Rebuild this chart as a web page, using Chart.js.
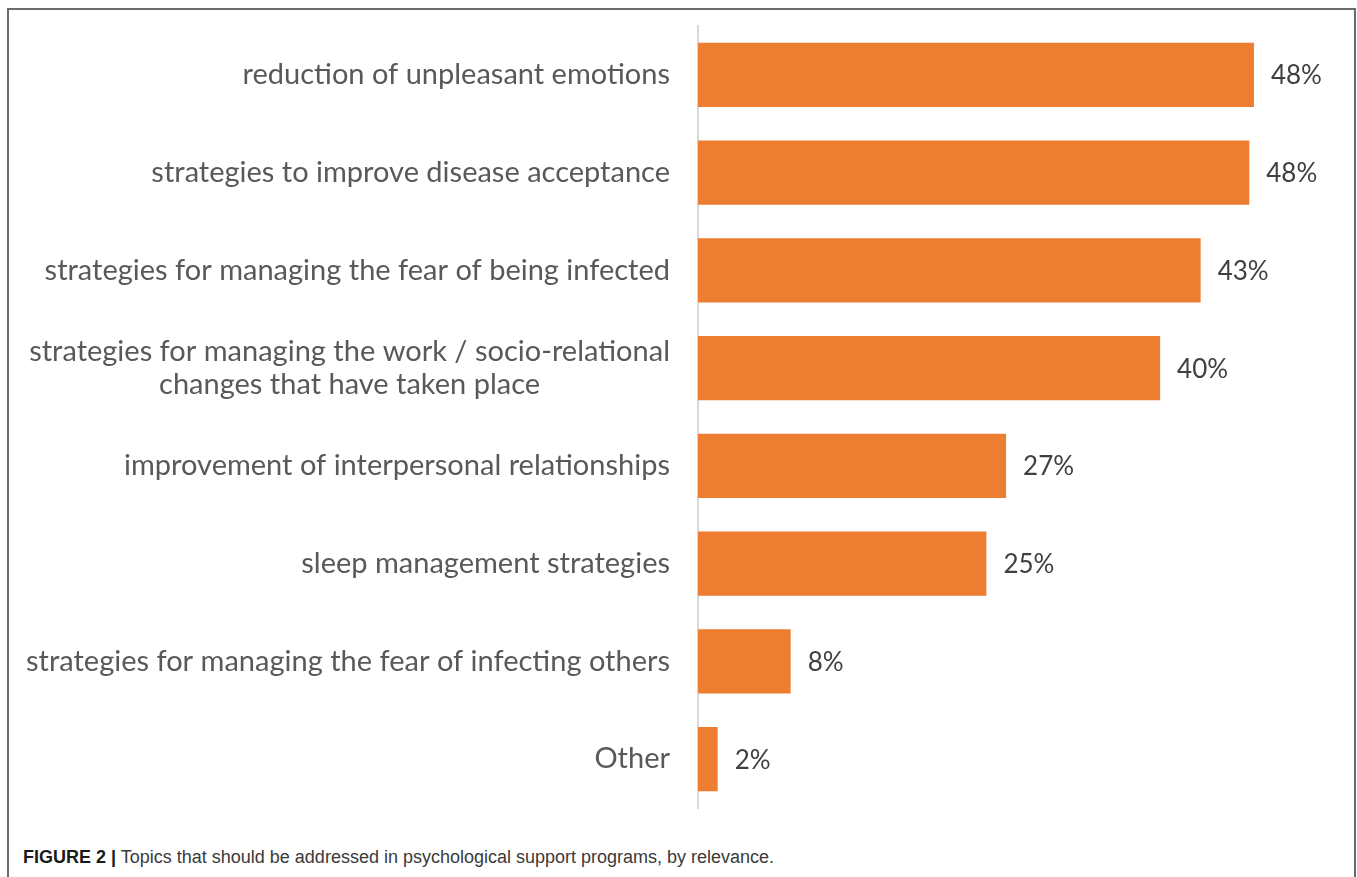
<!DOCTYPE html>
<html>
<head>
<meta charset="utf-8">
<script src="https://cdn.jsdelivr.net/npm/chart.js@4"></script>
<style>
    html, body { margin: 0; padding: 0; background: #fff; }
    #page { position: relative; width: 1357px; height: 877px; overflow: hidden; }
    #frame { position: absolute; left: 7px; top: 8px; width: 1349px; height: 900px; border: 2px solid #6b6b6b; box-sizing: border-box; }
    #chart-box { position: absolute; left: 0; top: 0; width: 1357px; height: 820px; }
    #caption { position: absolute; left: 23px; top: 847px; font-family: "Liberation Sans", Arial, sans-serif; font-size: 18px; color: #3a3a3a; white-space: nowrap; }
    #caption b { color: #1a1a1a; }
</style>
</head>
<body>
<div id="page">
    <div id="frame"></div>
    <div id="chart-box"><canvas id="topics-chart" width="1357" height="820"></canvas></div>
    <div id="caption"><b>FIGURE 2 |</b> Topics that should be addressed in psychological support programs, by relevance.</div>
</div>
<script>
// data (percent of respondents)
const topics = [
    ['reduction of unpleasant emotions'],
    ['strategies to improve disease acceptance'],
    ['strategies for managing the fear of being infected'],
    ['strategies for managing the work / socio-relational', 'changes that have taken place'],
    ['improvement of interpersonal relationships'],
    ['sleep management strategies'],
    ['strategies for managing the fear of infecting others'],
    ['Other']
];
const shares = [48.0, 47.6, 43.4, 39.9, 26.6, 24.9, 8.0, 1.7];

const barColor = '#ED7D31';
const labelFont = '29px Lato, "Open Sans", sans-serif';
const valueFont = '26px Lato, "Open Sans", sans-serif';

// category names: lines centred inside a right-aligned block (like the original)
const categoryLabels = {
    id: 'categoryLabels',
    afterDraw(chart) {
        const ctx = chart.ctx;
        const yScale = chart.scales.y;
        const right = chart.chartArea.left - 28;
        ctx.save();
        ctx.font = labelFont;
        ctx.fillStyle = '#595959';
        ctx.textBaseline = 'middle';
        ctx.textAlign = 'center';
        topics.forEach((lines, i) => {
            const y = yScale.getPixelForTick(i);
            const w = Math.max(...lines.map(l => ctx.measureText(l).width));
            const cx = right - w / 2;
            const lh = 33;
            const y0 = y - (lines.length - 1) * lh / 2;
            lines.forEach((l, j) => ctx.fillText(l, cx, y0 + j * lh));
        });
        ctx.restore();
    }
};

// percentage labels at the end of each bar
const valueLabels = {
    id: 'valueLabels',
    afterDatasetsDraw(chart) {
        const ctx = chart.ctx;
        const meta = chart.getDatasetMeta(0);
        ctx.save();
        ctx.font = valueFont;
        ctx.fillStyle = '#404040';
        ctx.textBaseline = 'middle';
        ctx.textAlign = 'left';
        meta.data.forEach((bar, i) => {
            ctx.fillText(Math.round(shares[i]) + '%', bar.x + 17, bar.y + 1);
        });
        ctx.restore();
    }
};

new Chart(document.getElementById('topics-chart'), {
    type: 'bar',
    data: {
        labels: topics.map(t => t.join(' ')),
        datasets: [{
            data: shares,
            backgroundColor: barColor,
            borderWidth: 0,
            categoryPercentage: 1,
            barPercentage: 0.655
        }]
    },
    options: {
        indexAxis: 'y',
        responsive: false,
        animation: false,
        layout: { padding: { top: 26, bottom: 12, right: 22, left: 0 } },
        plugins: {
            legend: { display: false },
            tooltip: { enabled: false }
        },
        scales: {
            x: { display: false, min: 0, max: 55 },
            y: {
                grid: { display: false },
                border: { display: true, color: '#d9d9d9', width: 2 },
                ticks: { display: false },
                afterFit(scale) { scale.width = 698; }
            }
        }
    },
    plugins: [categoryLabels, valueLabels]
});
</script>
</body>
</html>
